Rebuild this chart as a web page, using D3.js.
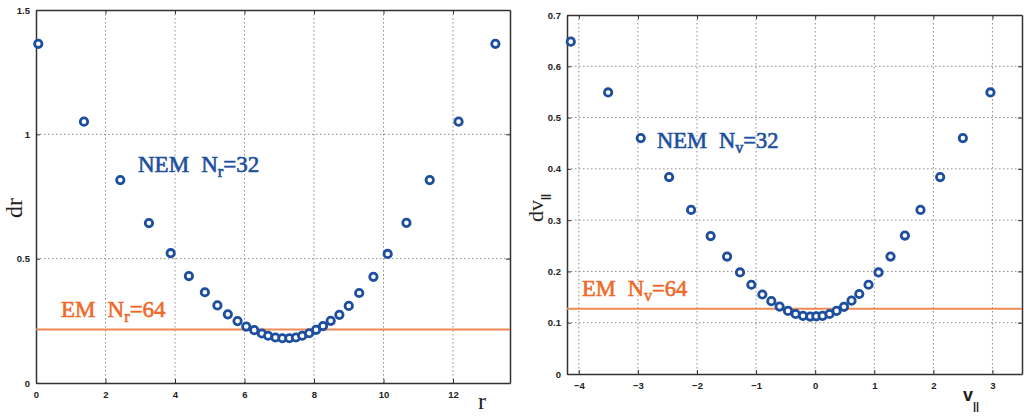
<!DOCTYPE html>
<html>
<head>
<meta charset="utf-8">
<script src="https://cdn.jsdelivr.net/npm/d3@7"></script>
<style>
  html, body { margin: 0; padding: 0; background: #fff; }
  svg { display: block; }
  .tick text { font-family: "Liberation Sans", Arial, sans-serif; font-weight: bold; font-size: 9.5px; fill: #222; }
</style>
</head>
<body>
<svg id="chart" width="1024" height="416"></svg>
<script>
// ---- Left panel data: NEM mesh spacing dr vs r (N_r = 32)
const rValues = [0.066, 1.381, 2.426, 3.25, 3.876, 4.40, 4.86, 5.22, 5.52, 5.80, 6.05, 6.28, 6.50, 6.68, 6.89, 7.09,
                 7.29, 7.48, 7.66, 7.86, 8.06, 8.26, 8.48, 8.73, 9.00, 9.30, 9.71, 10.12, 10.66, 11.33, 12.16, 13.22];
const drValues = [1.364, 1.051, 0.816, 0.643, 0.522, 0.430, 0.365, 0.312, 0.276, 0.249, 0.227, 0.2125, 0.199, 0.190, 0.183, 0.180,
                  0.180, 0.183, 0.190, 0.200, 0.214, 0.229, 0.250, 0.274, 0.310, 0.362, 0.427, 0.519, 0.644, 0.816, 1.051, 1.364];
const emDr = 0.215;
const rTicks = [0, 2, 4, 6, 8, 10, 12];
const drTicks = [0, 0.5, 1, 1.5];
const rTickLabels = ["0", "2", "4", "6", "8", "10", "12"];
const drTickLabels = ["0", "0.5", "1", "1.5"];

// ---- Right panel data: NEM mesh spacing dv|| vs v|| (N_v = 32)
const vValues = [-4.136, -3.504, -2.952, -2.472, -2.100, -1.769, -1.491, -1.272, -1.080, -0.894, -0.742, -0.602, -0.460, -0.331, -0.206, -0.083,
                 0.019, 0.125, 0.243, 0.362, 0.487, 0.615, 0.746, 0.903, 1.072, 1.275, 1.518, 1.782, 2.115, 2.499, 2.966];
const dvValues = [0.648, 0.549, 0.460, 0.384, 0.320, 0.269, 0.229, 0.198, 0.174, 0.155, 0.142, 0.1315, 0.123, 0.117, 0.1134, 0.112,
                  0.1125, 0.1134, 0.117, 0.123, 0.131, 0.143, 0.156, 0.174, 0.198, 0.229, 0.270, 0.320, 0.384, 0.460, 0.549];
const emDv = 0.127;
const vTicks = [-4, -3, -2, -1, 0, 1, 2, 3];
const dvTicks = [0, 0.1, 0.2, 0.3, 0.4, 0.5, 0.6, 0.7];
const vTickLabels = ["\u22124", "\u22123", "\u22122", "\u22121", "0", "1", "2", "3"];
const dvTickLabels = ["0", "0.1", "0.2", "0.3", "0.4", "0.5", "0.6", "0.7"];

const BLUE = "#1d4f9e";
const ORANGE_TEXT = "#ee6a2a";
const ORANGE_LINE = "#f08a55";
const SERIF = "'Liberation Serif', 'Times New Roman', serif";

const svg = d3.select("#chart");

function drawPanel(o) {
  const x = d3.scaleLinear().domain(o.xDomain).range([o.left, o.right]);
  const y = d3.scaleLinear().domain(o.yDomain).range([o.bottom, o.top]);
  const g = svg.append("g");

  // grid
  g.append("g").selectAll("line").data(o.xTicks.filter(t => t !== o.xDomain[0])).join("line")
    .attr("x1", d => x(d)).attr("x2", d => x(d)).attr("y1", o.top).attr("y2", o.bottom)
    .attr("stroke", "#8a8a8a").attr("stroke-width", 1).attr("stroke-dasharray", "1.5,2.5");
  g.append("g").selectAll("line").data(o.yTicks.filter(t => t !== o.yDomain[0] && t !== o.yDomain[1])).join("line")
    .attr("x1", o.left).attr("x2", o.right).attr("y1", d => y(d)).attr("y2", d => y(d))
    .attr("stroke", "#8a8a8a").attr("stroke-width", 1).attr("stroke-dasharray", "1.5,2.5");

  // axes
  const xAxis = d3.axisBottom(x).tickValues(o.xTicks).tickSizeInner(-4).tickSizeOuter(0).tickPadding(8)
    .tickFormat((d, i) => o.xTickLabels[i]);
  const yAxis = d3.axisLeft(y).tickValues(o.yTicks).tickSizeInner(-4).tickSizeOuter(0).tickPadding(6)
    .tickFormat((d, i) => o.yTickLabels[i]);
  const xTop = d3.axisTop(x).tickValues(o.xTicks).tickSizeInner(-4).tickSizeOuter(0).tickFormat("");
  const yRight = d3.axisRight(y).tickValues(o.yTicks).tickSizeInner(-4).tickSizeOuter(0).tickFormat("");

  [
    g.append("g").attr("transform", `translate(0,${o.bottom})`).call(xAxis),
    g.append("g").attr("transform", `translate(${o.left},0)`).call(yAxis),
    g.append("g").attr("transform", `translate(0,${o.top})`).call(xTop),
    g.append("g").attr("transform", `translate(${o.right},0)`).call(yRight)
  ].forEach(a => {
    a.select(".domain").attr("stroke", "#333").attr("stroke-width", 1.5);
    a.selectAll(".tick line").attr("stroke", "#333").attr("stroke-width", 1);
  });

  // EM line
  g.append("line")
    .attr("x1", o.left).attr("x2", o.right)
    .attr("y1", y(o.em)).attr("y2", y(o.em))
    .attr("stroke", ORANGE_LINE).attr("stroke-width", 2);

  // NEM points
  const pts = o.xs.map((v, i) => [v, o.ys[i]]);
  g.append("g").selectAll("circle").data(pts).join("circle")
    .attr("cx", d => x(d[0])).attr("cy", d => y(d[1])).attr("r", 3.7)
    .attr("fill", "#fff").attr("stroke", BLUE).attr("stroke-width", 2.8);

  return { g, x, y };
}

// Left panel
drawPanel({
  left: 36, right: 510, top: 10, bottom: 383,
  xDomain: [0, 13.64], yDomain: [0, 1.5],
  xTicks: rTicks, yTicks: drTicks, xTickLabels: rTickLabels, yTickLabels: drTickLabels,
  xs: rValues, ys: drValues, em: emDr
});

// Right panel
drawPanel({
  left: 567, right: 1022, top: 15, bottom: 374,
  xDomain: [-4.2, 3.5], yDomain: [0, 0.7],
  xTicks: vTicks, yTicks: dvTicks, xTickLabels: vTickLabels, yTickLabels: dvTickLabels,
  xs: vValues, ys: dvValues, em: emDv
});

// Annotations
function label(x0, y0, main, gap, sub, rest, color, size) {
  const t = svg.append("text").attr("x", x0).attr("y", y0)
    .attr("font-family", SERIF).attr("font-size", size).attr("fill", color)
    .attr("stroke", color).attr("stroke-width", 0.6);
  t.append("tspan").text(main);
  t.append("tspan").attr("dx", gap).text("N");
  t.append("tspan").attr("font-size", size * 0.72).attr("dy", 5).text(sub);
  t.append("tspan").attr("dy", -5).text(rest);
  return t;
}
label(138, 172, "NEM", 12, "r", "=32", BLUE, 23);
label(61, 317, "EM", 12, "r", "=64", ORANGE_TEXT, 23);
label(657, 148, "NEM", 12, "v", "=32", BLUE, 22.5);
label(582, 296, "EM", 12, "v", "=64", ORANGE_TEXT, 22.5);

// Axis titles
svg.append("text").attr("x", 482).attr("y", 409).attr("text-anchor", "middle")
  .attr("font-family", SERIF).attr("font-size", 24).attr("fill", "#222").text("r");
svg.append("text").attr("transform", "translate(22,208) rotate(-90)").attr("text-anchor", "middle")
  .attr("font-family", SERIF).attr("font-size", 24).attr("fill", "#222").text("dr");

const vt = svg.append("text").attr("x", 963).attr("y", 401)
  .attr("font-family", "'Liberation Sans', Arial, sans-serif").attr("font-weight", "bold").attr("font-size", 18).attr("fill", "#222");
vt.append("tspan").text("v");
vt.append("tspan").attr("font-size", 11).attr("dy", 9).text("||");

const dvt = svg.append("text").attr("transform", "translate(543,208) rotate(-90)").attr("text-anchor", "middle")
  .attr("font-family", SERIF).attr("font-size", 22).attr("fill", "#222");
dvt.append("tspan").text("dv");
dvt.append("tspan").attr("font-family", "'Liberation Sans', Arial, sans-serif").attr("font-weight", "bold").attr("font-size", 11).attr("dy", 6).text("||");
</script>
</body>
</html>
